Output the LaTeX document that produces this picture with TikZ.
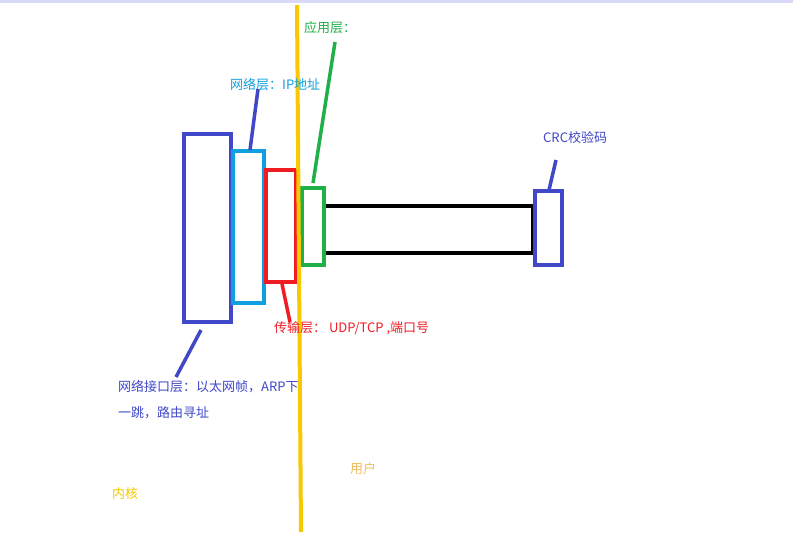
\documentclass[tikz,border=0pt]{standalone}
\usepackage{fontspec}
\setmainfont{Noto Sans CJK SC}
\begin{document}
\begin{tikzpicture}[x=1pt,y=-1pt,
  box/.style={line width=4pt},
  lead/.style={line width=3.5pt},
  lbl/.style={anchor=west,inner sep=0,font=\fontsize{13}{16}\selectfont}]
\definecolor{cblue}{HTML}{4048C8}
\definecolor{ccyan}{HTML}{10A0E0}
\definecolor{cred}{HTML}{F01C24}
\definecolor{cgreen}{HTML}{20B048}
\definecolor{cyel}{HTML}{F8C800}
\definecolor{corange}{HTML}{F0C060}
\useasboundingbox (0,0) rectangle (793,539);
\fill[white] (0,0) rectangle (793,539);
\fill[black!20!blue!15] (0,0) rectangle (793,3);
\draw[box,cblue] (184,134) rectangle (231,322);
\draw[box,ccyan] (233,151) rectangle (264,303);
\draw[box,cred] (266,170) rectangle (296,282);
\draw[box,black] (324,206) rectangle (533,253);
\draw[box,cgreen] (302,188) rectangle (324,265);
\draw[box,cblue] (535,191) rectangle (562,265);
\coordinate (y1) at (297,5); \coordinate (y2) at (301,532);
\draw[line width=4pt,cyel] (y1) -- (y2);
\node[lbl,text=cgreen] (app) at (304,28) {应用层：};
\node[lbl,text=ccyan] (net) at (230,85) {网络层：IP地址};
\node[lbl,text=cblue] (crc) at (543,138) {CRC校验码};
\node[lbl,text=cred] (tr) at (274,328) {传输层： UDP/TCP ,端口号};
\node[lbl,text=cblue] (if1) at (118,387) {网络接口层：以太网帧，ARP下};
\node[lbl,text=cblue] (if2) at (118,413) {一跳，路由寻址};
\node[lbl,text=corange] (user) at (350,469) {用户};
\node[lbl,text=cyel] (kern) at (112,494) {内核};
\coordinate (a1) at (201,330); \coordinate (a2) at (176,377);
\coordinate (b1) at (258,89); \coordinate (b2) at (250,150);
\coordinate (c1) at (335,42); \coordinate (c2) at (313,183);
\coordinate (d1) at (282,284); \coordinate (d2) at (290,322);
\coordinate (e1) at (556,160); \coordinate (e2) at (549,190);
\draw[lead,cblue] (a1) -- (a2);
\draw[lead,cblue] (b1) -- (b2);
\draw[lead,cgreen] (c1) -- (c2);
\draw[lead,cred] (d1) -- (d2);
\draw[lead,cblue] (e1) -- (e2);
\end{tikzpicture}
\end{document}
